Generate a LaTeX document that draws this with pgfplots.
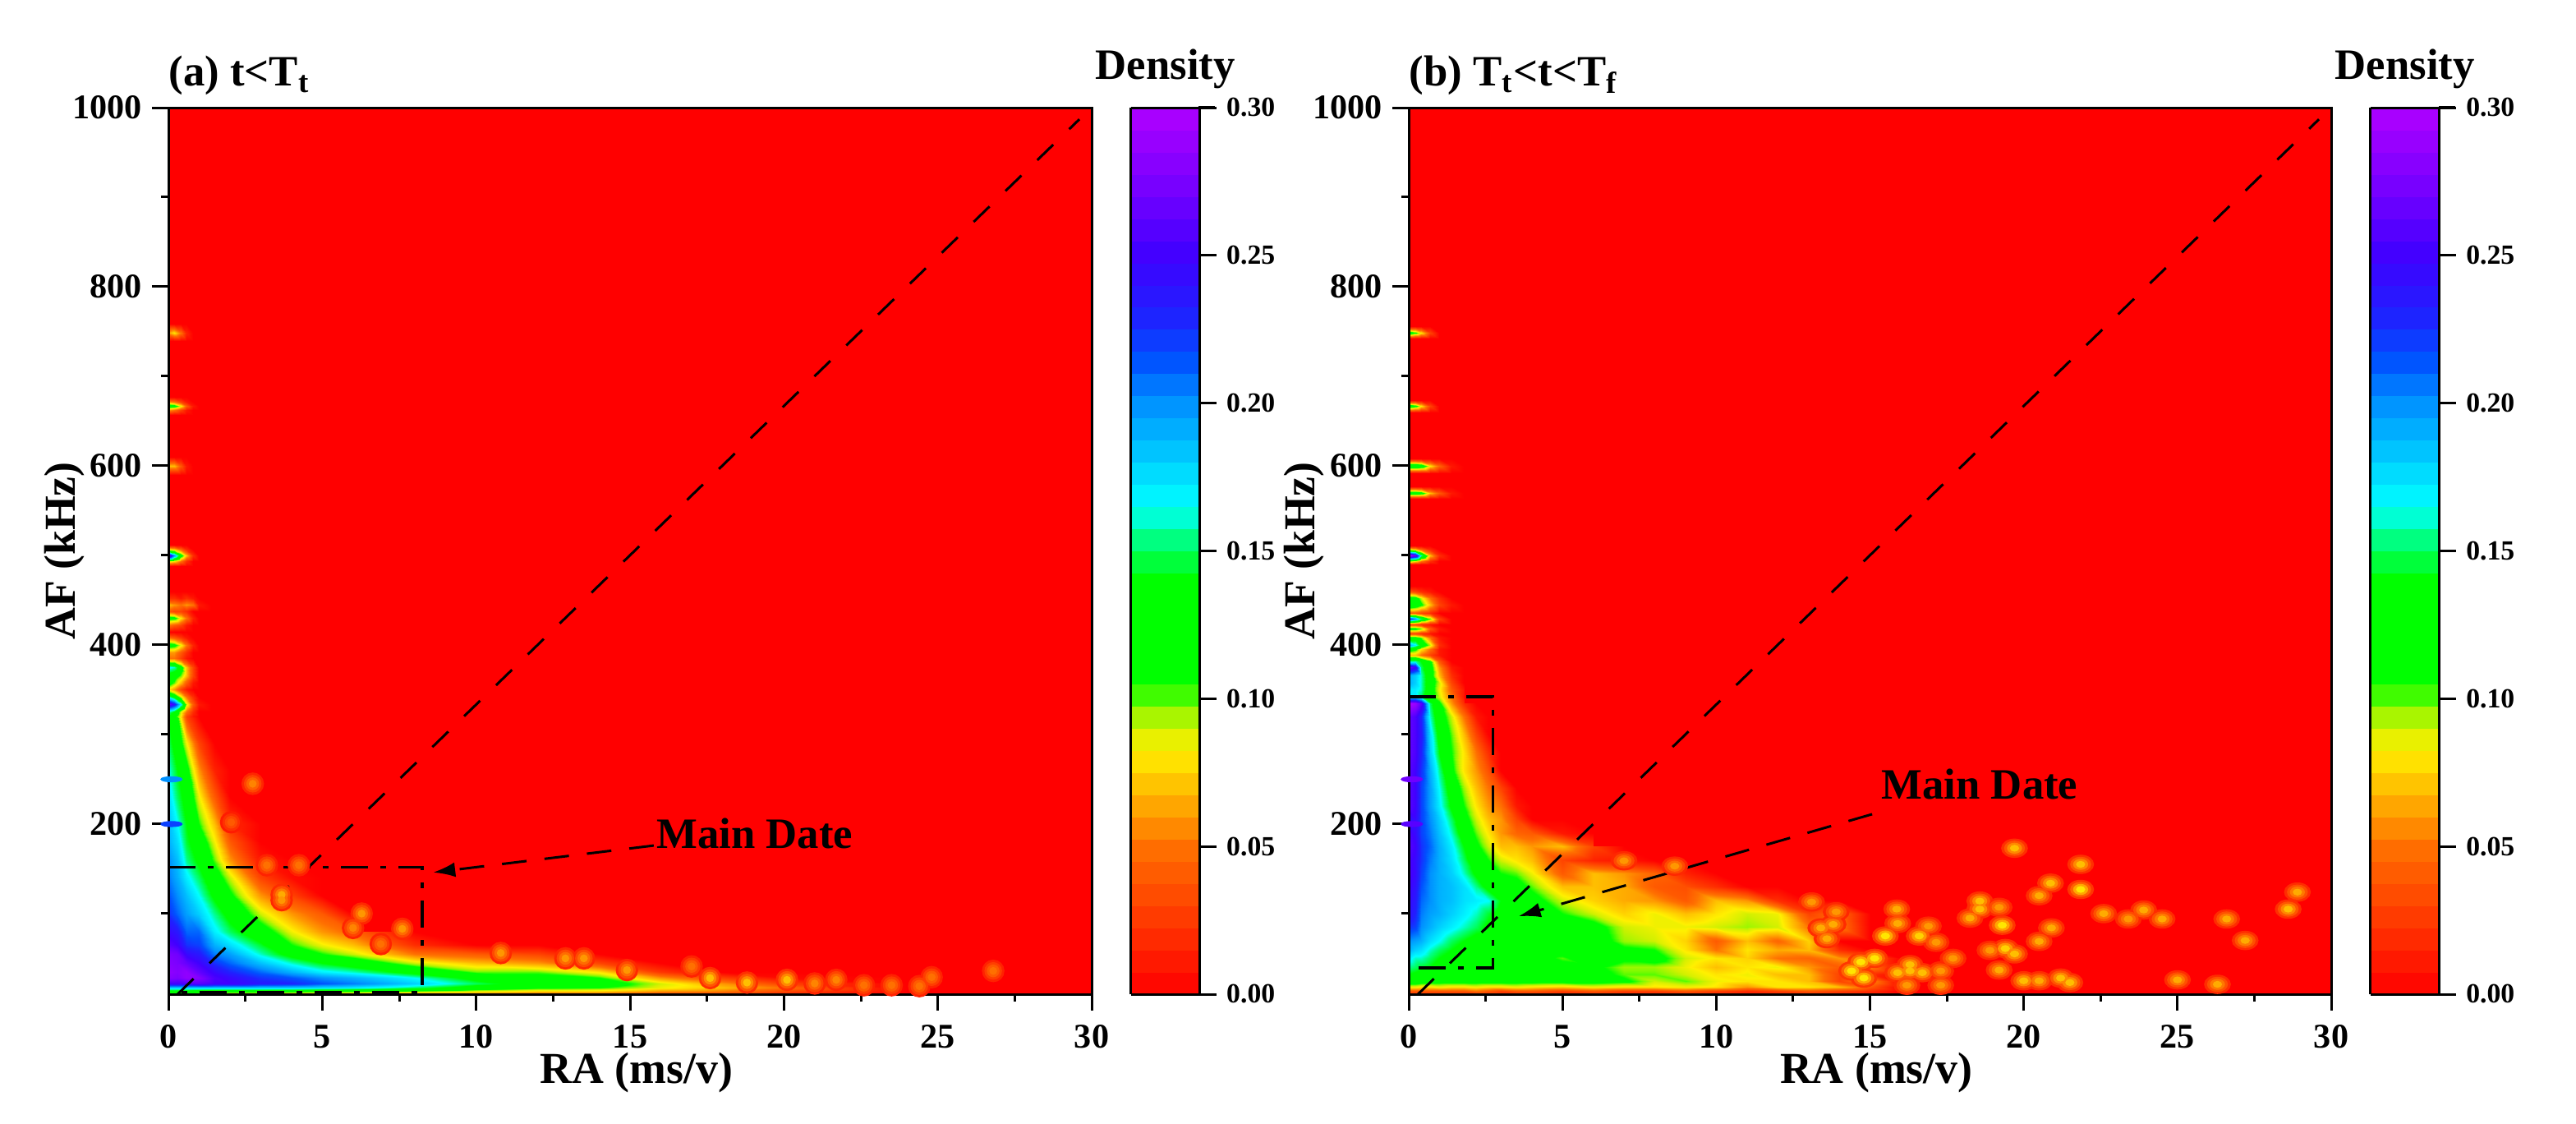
\documentclass[border=0pt]{standalone}
\usepackage{fontspec}
\setmainfont{Liberation Serif}
\usepackage{pgfplots}
\usepackage{pgfplotstable}
\pgfplotsset{compat=1.18}
\usetikzlibrary{arrows.meta}

\tikzset{call text/.style={font=\bfseries\fontsize{15}{15}\selectfont,anchor=base west,inner sep=0pt}}

% 1 px of the reference = 0.01cm
\pgfplotsset{
  colormap={dens}{[1pt]
    rgb255(0pt)=(255,0,0); rgb255(20pt)=(255,112,0); rgb255(33pt)=(255,240,0);
    rgb255(36pt)=(210,240,0); rgb255(39pt)=(128,250,0); rgb255(42pt)=(0,255,0);
    rgb255(56pt)=(0,255,0); rgb255(62pt)=(0,255,140); rgb255(66pt)=(0,255,255);
    rgb255(80pt)=(0,145,255); rgb255(86pt)=(0,80,255); rgb255(92pt)=(32,32,255);
    rgb255(100pt)=(64,0,255); rgb255(108pt)=(112,0,255); rgb255(120pt)=(176,0,255)},
  panel/.style={
    scale only axis, height=10.79cm,
    xmin=0, xmax=30, ymin=10, ymax=1000,
    xtick={0,5,...,30}, ytick={200,400,...,1000},
    minor xtick={2.5,7.5,...,27.5}, minor ytick={100,300,...,900},
    xtick pos=bottom, ytick pos=left, tick align=outside,
    major tick length=.2cm, minor tick length=.09cm,
    axis line style={line width=.03cm}, tick style={line width=.03cm,black},
    axis on top, axis background/.style={fill=red},
    colormap name=dens, point meta min=0, point meta max=0.3,
    /pgf/number format/assume math mode=true,
    /pgf/number format/1000 sep={},
    tick label style={font=\bfseries\fontsize{12}{12}\selectfont},
    xticklabel style={yshift=-.05cm},
    label style={font=\bfseries\fontsize{15.3}{15.3}\selectfont},
    title style={font=\bfseries\fontsize{15}{15}\selectfont,at={(0,1)},anchor=base west,inner sep=0pt,yshift=.05cm},
    xlabel={RA (ms/v)}, ylabel={AF (kHz)},
    xlabel style={at={(axis description cs:0.507,0)},anchor=base,yshift=-1.08cm},
    ylabel style={at={(axis description cs:0,0.5)},anchor=base,yshift=1.13cm},
    colorbar sampled,
    colorbar shift/.style={xshift=.15cm},
    colorbar style={
      samples=41, width=.84cm,
      ytick={0,0.05,...,0.3}, ytick pos=right, yticklabel pos=right,
      tick align=outside, major tick length=.2cm,
      axis line style={draw=black,line width=.03cm},
      tick style={draw=black,line width=.03cm},
      scaled y ticks=false,
      yticklabel style={font=\bfseries\fontsize{9.6}{9.6}\selectfont,
        /pgf/number format/fixed,/pgf/number format/fixed zerofill,
        /pgf/number format/precision=2,/pgf/number format/assume math mode=true},
      title={Density},
      title style={font=\bfseries\fontsize{15}{15}\selectfont,at={(0.5,1)},anchor=base,yshift=.13cm}
    }
  },
  dens mesh/.style={surf,shader=interp,forget plot,mesh/cols=#1,point meta=\thisrow{d}},
  box line/.style={black,line width=.035cm,dash pattern=on .33cm off .15cm on .07cm off .15cm},
  diag line/.style={black,line width=.03cm,dash pattern=on .27cm off .27cm},
  call line/.style={black,line width=.03cm,dash pattern=on .3cm off .22cm,-{Latex[length=.27cm,width=.18cm]}}
}

% isolated spots, drawn as nested rings that fade out to the background
\newcommand{\blobs}[2]{%
  \addplot[scatter,only marks,mark=*,mark size=3.7pt,forget plot,scatter/use mapped color={draw=mapped color,fill=mapped color},mark options={#2},point meta={\thisrow{d}*0.3}] table {#1};
  \addplot[scatter,only marks,mark=*,mark size=2.85pt,forget plot,scatter/use mapped color={draw=mapped color,fill=mapped color},mark options={#2},point meta={\thisrow{d}*0.55}] table {#1};
  \addplot[scatter,only marks,mark=*,mark size=2pt,forget plot,scatter/use mapped color={draw=mapped color,fill=mapped color},mark options={#2},point meta={\thisrow{d}*0.8}] table {#1};
  \addplot[scatter,only marks,mark=*,mark size=1.15pt,forget plot,scatter/use mapped color={draw=mapped color,fill=mapped color},mark options={#2},point meta={\thisrow{d}}] table {#1};
}
\newcommand{\stripes}[1]{%
  \addplot[scatter,only marks,mark=*,mark size=1.2pt,forget plot,scatter/use mapped color={draw=mapped color,fill=mapped color},mark options={xscale=3,yscale=.7},point meta={\thisrow{d}}] table {#1};
}

\pgfplotstableread{
x y d
2.74 245 .055
2.04 202 .04
3.2 154 .05
4.24 154 .05
3.68 121 .065
3.68 115 .06
6.28 100 .06
6.0 84 .055
7.6 83 .06
6.9 66 .05
10.8 56 .06
12.9 50 .06
13.5 50 .06
14.9 37 .06
17.0 41 .05
17.6 28 .07
18.8 23 .07
20.1 26 .07
21.0 22 .055
21.7 26 .055
22.6 20 .05
23.5 20 .05
24.4 19 .05
24.8 29 .05
26.8 36 .05
}\spotsa

\pgfplotstableread{
x y d
19.7 173 .07
21.85 155 .07
20.87 134 .07
21.85 127 .08
20.5 120 .065
28.9 124 .065
28.6 105 .07
15.87 105 .065
18.57 114 .07
18.57 105 .07
19.2 107 .06
18.25 95 .065
22.6 100 .065
23.9 104 .065
23.4 94 .06
24.5 94 .065
26.6 94 .065
15.9 89 .065
16.9 86 .06
19.3 87 .08
20.9 84 .065
15.5 75 .08
16.6 75 .075
17.15 68 .06
20.5 69 .065
27.2 70 .065
19.4 61 .075
19.7 55 .07
18.9 59 .06
17.7 50 .06
15.15 50 .08
14.7 46 .08
16.3 43 .07
16.3 36 .07
15.9 34 .07
16.7 34 .07
17.3 36 .06
19.2 37 .065
14.8 28 .08
14.4 36 .08
16.2 20 .06
17.3 20 .06
20 25 .07
20.5 25 .065
21.2 28 .07
21.5 23 .07
25 26 .065
26.3 21 .065
13.1 113 .06
13.8 88 .065
13.6 72 .065
13.4 84 .065
13.9 102 .06
8.65 153 .06
7 159 .06
}\spotsb

\pgfplotstableread{
x y d
.1 250 .2
.1 200 .22
}\stripea

\pgfplotstableread{
x y d
.1 250 .27
.1 200 .26
}\stripeb

\begin{document}
\begin{tikzpicture}
\path[use as bounding box] (0,0) rectangle (31.36cm,13.67cm);

\begin{axis}[panel,at={(2.05cm,1.57cm)},anchor=south west,width=11.24cm,
  title={(a) t<T\textsubscript{t}}]
\addplot[dens mesh=18] table[row sep=\\] {x y d\\
0 10 .08\\.3 10 .08\\.6 10 .08\\1 10 .08\\1.5 10 .08\\2 10 .07\\3 10 .07\\4 10 .06\\5 10 .06\\6 10 .06\\8 10 .05\\10 10 .04\\12 10 .035\\14 10 .035\\16 10 .02\\18 10 .02\\20 10 .01\\24 10 0\\
0 13 .12\\.3 13 .12\\.6 13 .12\\1 13 .115\\1.5 13 .11\\2 13 .11\\3 13 .11\\4 13 .105\\5 13 .1\\6 13 .1\\8 13 .09\\10 13 .08\\12 13 .07\\14 13 .07\\16 13 .055\\18 13 .05\\20 13 .03\\24 13 0\\
0 17 .18\\.3 17 .18\\.6 17 .18\\1 17 .18\\1.5 17 .18\\2 17 .18\\3 17 .18\\4 17 .18\\5 17 .175\\6 17 .17\\8 17 .15\\10 17 .125\\12 17 .11\\14 17 .105\\16 17 .085\\18 17 .07\\20 17 .05\\24 17 0\\
0 22 .25\\.3 22 .25\\.6 22 .255\\1 22 .26\\1.5 22 .25\\2 22 .25\\3 22 .235\\4 22 .23\\5 22 .215\\6 22 .205\\8 22 .18\\10 22 .15\\12 22 .125\\14 22 .12\\16 22 .09\\18 22 .06\\20 22 .03\\24 22 0\\
0 28 .28\\.3 28 .275\\.6 28 .285\\1 28 .28\\1.5 28 .255\\2 28 .245\\3 28 .225\\4 28 .215\\5 28 .2\\6 28 .19\\8 28 .165\\10 28 .13\\12 28 .115\\14 28 .105\\16 28 .06\\18 28 .03\\20 28 .005\\24 28 0\\
0 35 .285\\.3 35 .28\\.6 35 .285\\1 35 .265\\1.5 35 .245\\2 35 .23\\3 35 .21\\4 35 .19\\5 35 .17\\6 35 .16\\8 35 .13\\10 35 .1\\12 35 .1\\14 35 .08\\16 35 .025\\18 35 0\\20 35 0\\24 35 0\\
0 45 .28\\.3 45 .275\\.6 45 .265\\1 45 .25\\1.5 45 .225\\2 45 .21\\3 45 .185\\4 45 .16\\5 45 .14\\6 45 .125\\8 45 .09\\10 45 .07\\12 45 .06\\14 45 .03\\16 45 0\\18 45 0\\20 45 0\\24 45 0\\
0 55 .275\\.3 55 .27\\.6 55 .245\\1 55 .235\\1.5 55 .205\\2 55 .195\\3 55 .16\\4 55 .13\\5 55 .105\\6 55 .09\\8 55 .05\\10 55 .04\\12 55 .03\\14 55 0\\16 55 0\\18 55 0\\20 55 0\\24 55 0\\
0 65 .26\\.3 65 .25\\.6 65 .225\\1 65 .22\\1.5 65 .19\\2 65 .175\\3 65 .145\\4 65 .105\\5 65 .085\\6 65 .07\\8 65 .02\\10 65 0\\12 65 0\\14 65 0\\16 65 0\\18 65 0\\20 65 0\\24 65 0\\
0 80 .245\\.3 80 .235\\.6 80 .21\\1 80 .21\\1.5 80 .17\\2 80 .15\\3 80 .12\\4 80 .085\\5 80 .06\\6 80 .045\\8 80 0\\10 80 0\\12 80 0\\14 80 0\\16 80 0\\18 80 0\\20 80 0\\24 80 0\\
};
\addplot[dens mesh=10] table[row sep=\\] {x y d\\
0 80 .245\\.3 80 .235\\.6 80 .21\\1 80 .21\\1.5 80 .17\\2 80 .15\\3 80 .12\\4 80 .085\\5 80 .06\\6 80 .045\\
0 100 .225\\.3 100 .21\\.6 100 .195\\1 100 .18\\1.5 100 .155\\2 100 .13\\3 100 .09\\4 100 .06\\5 100 .04\\6 100 0\\
0 120 .215\\.3 120 .2\\.6 120 .185\\1 120 .165\\1.5 120 .135\\2 120 .11\\3 120 .06\\4 120 .03\\5 120 0\\6 120 0\\
0 140 .205\\.3 140 .19\\.6 140 .17\\1 140 .15\\1.5 140 .12\\2 140 .09\\3 140 .03\\4 140 .005\\5 140 0\\6 140 0\\
0 160 .2\\.3 160 .185\\.6 160 .155\\1 160 .135\\1.5 160 .1\\2 160 .06\\3 160 .01\\4 160 0\\5 160 0\\6 160 0\\
0 180 .19\\.3 180 .175\\.6 180 .145\\1 180 .125\\1.5 180 .085\\2 180 .04\\3 180 0\\4 180 0\\5 180 0\\6 180 0\\
0 200 .185\\.3 200 .165\\.6 200 .14\\1 200 .105\\1.5 200 .07\\2 200 .02\\3 200 0\\4 200 0\\5 200 0\\6 200 0\\
0 230 .175\\.3 230 .15\\.6 230 .13\\1 230 .085\\1.5 230 .04\\2 230 0\\3 230 0\\4 230 0\\5 230 0\\6 230 0\\
0 260 .165\\.3 260 .14\\.6 260 .115\\1 260 .06\\1.5 260 .015\\2 260 0\\3 260 0\\4 260 0\\5 260 0\\6 260 0\\
0 290 .15\\.3 290 .125\\.6 290 .085\\1 290 .03\\1.5 290 0\\2 290 0\\3 290 0\\4 290 0\\5 290 0\\6 290 0\\
0 320 .14\\.3 320 .105\\.6 320 .03\\1 320 0\\1.5 320 0\\2 320 0\\3 320 0\\4 320 0\\5 320 0\\6 320 0\\
};
\addplot[dens mesh=7] table[row sep=\\] {x y d\\
0 320 .14\\.2 320 .115\\.4 320 .08\\.6 320 .03\\.8 320 .01\\1 320 0\\1.4 320 0\\
0 326 .16\\.2 326 .14\\.4 326 .09\\.6 326 .05\\.8 326 .02\\1 326 0\\1.4 326 0\\
0 334 .27\\.2 334 .24\\.4 334 .17\\.6 334 .09\\.8 334 .04\\1 334 .01\\1.4 334 0\\
0 342 .16\\.2 342 .13\\.4 342 .09\\.6 342 .05\\.8 342 .02\\1 342 0\\1.4 342 0\\
0 350 .08\\.2 350 .06\\.4 350 .03\\.6 350 .01\\.8 350 0\\1 350 0\\1.4 350 0\\
0 358 .12\\.2 358 .1\\.4 358 .07\\.6 358 .04\\.8 358 .01\\1 358 0\\1.4 358 0\\
0 366 .13\\.2 366 .12\\.4 366 .1\\.6 366 .07\\.8 366 .03\\1 366 0\\1.4 366 0\\
0 375 .17\\.2 375 .16\\.4 375 .12\\.6 375 .07\\.8 375 .03\\1 375 0\\1.4 375 0\\
0 385 .05\\.2 385 .05\\.4 385 .03\\.6 385 .01\\.8 385 0\\1 385 0\\1.4 385 0\\
0 392 .06\\.2 392 .06\\.4 392 .04\\.6 392 .02\\.8 392 0\\1 392 0\\1.4 392 0\\
0 400 .12\\.2 400 .115\\.4 400 .085\\.6 400 .05\\.8 400 .015\\1 400 0\\1.4 400 0\\
0 408 .05\\.2 408 .04\\.4 408 .025\\.6 408 .01\\.8 408 0\\1 408 0\\1.4 408 0\\
0 415 0\\.2 415 0\\.4 415 0\\.6 415 0\\.8 415 0\\1 415 0\\1.4 415 0\\
0 422 .05\\.2 422 .04\\.4 422 .03\\.6 422 .01\\.8 422 0\\1 422 0\\1.4 422 0\\
0 430 .12\\.2 430 .115\\.4 430 .08\\.6 430 .05\\.8 430 .015\\1 430 0\\1.4 430 0\\
0 438 .04\\.2 438 .03\\.4 438 .03\\.6 438 .02\\.8 438 0\\1 438 0\\1.4 438 0\\
0 445 .07\\.2 445 .06\\.4 445 .05\\.6 445 .06\\.8 445 .05\\1 445 .01\\1.4 445 0\\
0 452 .02\\.2 452 .02\\.4 452 .01\\.6 452 .02\\.8 452 .01\\1 452 0\\1.4 452 0\\
0 460 0\\.2 460 0\\.4 460 0\\.6 460 0\\.8 460 0\\1 460 0\\1.4 460 0\\
0 488 0\\.2 488 0\\.4 488 0\\.6 488 0\\.8 488 0\\1 488 0\\1.4 488 0\\
0 494 .09\\.2 494 .08\\.4 494 .05\\.6 494 .02\\.8 494 0\\1 494 0\\1.4 494 0\\
0 500 .28\\.2 500 .2\\.4 500 .12\\.6 500 .07\\.8 500 .02\\1 500 0\\1.4 500 0\\
0 506 .09\\.2 506 .08\\.4 506 .05\\.6 506 .02\\.8 506 0\\1 506 0\\1.4 506 0\\
0 512 0\\.2 512 0\\.4 512 0\\.6 512 0\\.8 512 0\\1 512 0\\1.4 512 0\\
0 590 0\\.2 590 0\\.4 590 0\\.6 590 0\\.8 590 0\\1 590 0\\1.4 590 0\\
0 600 .07\\.2 600 .07\\.4 600 .04\\.6 600 .01\\.8 600 0\\1 600 0\\1.4 600 0\\
0 610 0\\.2 610 0\\.4 610 0\\.6 610 0\\.8 610 0\\1 610 0\\1.4 610 0\\
0 657 0\\.2 657 0\\.4 657 0\\.6 657 0\\.8 657 0\\1 657 0\\1.4 657 0\\
0 662 .06\\.2 662 .05\\.4 662 .03\\.6 662 .01\\.8 662 0\\1 662 0\\1.4 662 0\\
0 667 .13\\.2 667 .12\\.4 667 .085\\.6 667 .04\\.8 667 .01\\1 667 0\\1.4 667 0\\
0 672 .06\\.2 672 .05\\.4 672 .03\\.6 672 .01\\.8 672 0\\1 672 0\\1.4 672 0\\
0 677 0\\.2 677 0\\.4 677 0\\.6 677 0\\.8 677 0\\1 677 0\\1.4 677 0\\
0 739 0\\.2 739 0\\.4 739 0\\.6 739 0\\.8 739 0\\1 739 0\\1.4 739 0\\
0 749 .06\\.2 749 .08\\.4 749 .05\\.6 749 .015\\.8 749 0\\1 749 0\\1.4 749 0\\
0 759 0\\.2 759 0\\.4 759 0\\.6 759 0\\.8 759 0\\1 759 0\\1.4 759 0\\
};
\blobs{\spotsa}{}
\stripes{\stripea}
\addplot[diag line] coordinates {(0.3,10) (29.6,987)};
\addplot[box line] coordinates {(0,152) (8.25,152) (8.25,12) (0,12)};
\addplot[call line] coordinates {(15.77,176) (8.6,146)};
\node[call text] at (axis cs:15.85,173) {Main Date};
\end{axis}

\begin{axis}[panel,at={(17.15cm,1.57cm)},anchor=south west,width=11.23cm,
  title={(b) T\textsubscript{t}<t<T\textsubscript{f}},
  ylabel style={yshift=.02cm}]
\addplot[dens mesh=24] table[row sep=\\] {x y d\\
0 10 .02\\.2 10 .02\\.4 10 .02\\.7 10 .02\\1 10 .02\\1.4 10 .02\\1.8 10 .02\\2.2 10 .02\\2.6 10 .02\\3 10 .02\\3.5 10 .02\\4 10 .02\\5 10 .015\\6 10 .02\\7 10 .015\\8 10 .015\\9 10 .02\\10 10 .015\\11 10 .01\\12 10 .015\\13 10 .02\\14 10 .015\\15 10 .01\\16 10 0\\
0 14 .04\\.2 14 .04\\.4 14 .04\\.7 14 .04\\1 14 .04\\1.4 14 .04\\1.8 14 .04\\2.2 14 .05\\2.6 14 .04\\3 14 .03\\3.5 14 .04\\4 14 .04\\5 14 .03\\6 14 .04\\7 14 .03\\8 14 .03\\9 14 .04\\10 14 .03\\11 14 .02\\12 14 .03\\13 14 .04\\14 14 .03\\15 14 .02\\16 14 0\\
0 18 .085\\.2 18 .085\\.4 18 .08\\.7 18 .08\\1 18 .085\\1.4 18 .08\\1.8 18 .08\\2.2 18 .085\\2.6 18 .08\\3 18 .08\\3.5 18 .085\\4 18 .08\\5 18 .075\\6 18 .085\\7 18 .08\\8 18 .08\\9 18 .085\\10 18 .08\\11 18 .06\\12 18 .08\\13 18 .08\\14 18 .07\\15 18 .04\\16 18 0\\
0 25 .125\\.2 25 .125\\.4 25 .12\\.7 25 .115\\1 25 .115\\1.4 25 .115\\1.8 25 .115\\2.2 25 .115\\2.6 25 .115\\3 25 .115\\3.5 25 .115\\4 25 .115\\5 25 .115\\6 25 .115\\7 25 .11\\8 25 .09\\9 25 .1\\10 25 .085\\11 25 .08\\12 25 .08\\13 25 .07\\14 25 .03\\15 25 .06\\16 25 0\\
0 32 .14\\.2 32 .135\\.4 32 .13\\.7 32 .125\\1 32 .125\\1.4 32 .12\\1.8 32 .12\\2.2 32 .125\\2.6 32 .12\\3 32 .12\\3.5 32 .12\\4 32 .12\\5 32 .12\\6 32 .115\\7 32 .1\\8 32 .1\\9 32 .09\\10 32 .08\\11 32 .085\\12 32 .07\\13 32 .07\\14 32 .03\\15 32 .02\\16 32 0\\
0 40 .155\\.2 40 .15\\.4 40 .145\\.7 40 .14\\1 40 .13\\1.4 40 .12\\1.8 40 .115\\2.2 40 .11\\2.6 40 .115\\3 40 .12\\3.5 40 .12\\4 40 .12\\5 40 .115\\6 40 .11\\7 40 .095\\8 40 .095\\9 40 .085\\10 40 .07\\11 40 .08\\12 40 .085\\13 40 .06\\14 40 .04\\15 40 .055\\16 40 0\\
0 50 .17\\.2 50 .16\\.4 50 .16\\.7 50 .15\\1 50 .14\\1.4 50 .13\\1.8 50 .12\\2.2 50 .12\\2.6 50 .125\\3 50 .12\\3.5 50 .12\\4 50 .12\\5 50 .1\\6 50 .125\\7 50 .11\\8 50 .115\\9 50 .09\\10 50 .08\\11 50 .075\\12 50 .05\\13 50 .045\\14 50 .06\\15 50 .04\\16 50 0\\
0 60 .19\\.2 60 .18\\.4 60 .175\\.7 60 .16\\1 60 .15\\1.4 60 .14\\1.8 60 .13\\2.2 60 .125\\2.6 60 .125\\3 60 .125\\3.5 60 .125\\4 60 .125\\5 60 .12\\6 60 .12\\7 60 .11\\8 60 .105\\9 60 .08\\10 60 .05\\11 60 .08\\12 60 .065\\13 60 .07\\14 60 .02\\15 60 0\\16 60 0\\
0 70 .2\\.2 70 .195\\.4 70 .19\\.7 70 .175\\1 70 .165\\1.4 70 .15\\1.8 70 .14\\2.2 70 .13\\2.6 70 .125\\3 70 .125\\3.5 70 .13\\4 70 .125\\5 70 .125\\6 70 .12\\7 70 .095\\8 70 .09\\9 70 .075\\10 70 .04\\11 70 .07\\12 70 .045\\13 70 .075\\14 70 0\\15 70 0\\16 70 0\\
0 85 .225\\.2 85 .22\\.4 85 .2\\.7 85 .19\\1 85 .18\\1.4 85 .17\\1.8 85 .16\\2.2 85 .15\\2.6 85 .135\\3 85 .125\\3.5 85 .13\\4 85 .125\\5 85 .125\\6 85 .115\\7 85 .09\\8 85 .085\\9 85 .085\\10 85 .09\\11 85 .095\\12 85 .09\\13 85 .05\\14 85 .055\\15 85 0\\16 85 0\\
0 100 .24\\.2 100 .23\\.4 100 .205\\.7 100 .195\\1 100 .19\\1.4 100 .18\\1.8 100 .17\\2.2 100 .16\\2.6 100 .145\\3 100 .13\\3.5 100 .125\\4 100 .12\\5 100 .105\\6 100 .09\\7 100 .075\\8 100 .085\\9 100 .07\\10 100 .08\\11 100 .09\\12 100 .085\\13 100 .03\\14 100 .05\\15 100 0\\16 100 0\\
0 115 .245\\.2 115 .235\\.4 115 .21\\.7 115 .2\\1 115 .19\\1.4 115 .185\\1.8 115 .175\\2.2 115 .17\\2.6 115 .165\\3 115 .14\\3.5 115 .125\\4 115 .115\\5 115 .09\\6 115 .075\\7 115 .065\\8 115 .06\\9 115 .04\\10 115 .07\\11 115 .06\\12 115 .02\\13 115 0\\14 115 0\\15 115 0\\16 115 0\\
0 130 .25\\.2 130 .24\\.4 130 .215\\.7 130 .2\\1 130 .19\\1.4 130 .185\\1.8 130 .175\\2.2 130 .155\\2.6 130 .13\\3 130 .12\\3.5 130 .115\\4 130 .1\\5 130 .07\\6 130 .07\\7 130 .065\\8 130 .04\\9 130 .035\\10 130 .02\\11 130 0\\12 130 0\\13 130 0\\14 130 0\\15 130 0\\16 130 0\\
0 145 .255\\.2 145 .245\\.4 145 .22\\.7 145 .2\\1 145 .19\\1.4 145 .18\\1.8 145 .16\\2.2 145 .135\\2.6 145 .115\\3 145 .105\\3.5 145 .1\\4 145 .085\\5 145 .04\\6 145 .07\\7 145 .06\\8 145 .045\\9 145 .015\\10 145 0\\11 145 0\\12 145 0\\13 145 0\\14 145 0\\15 145 0\\16 145 0\\
0 160 .255\\.2 160 .245\\.4 160 .225\\.7 160 .205\\1 160 .19\\1.4 160 .175\\1.8 160 .15\\2.2 160 .12\\2.6 160 .105\\3 160 .09\\3.5 160 .08\\4 160 .07\\5 160 .03\\6 160 .015\\7 160 .01\\8 160 0\\9 160 0\\10 160 0\\11 160 0\\12 160 0\\13 160 0\\14 160 0\\15 160 0\\16 160 0\\
0 175 .26\\.2 175 .25\\.4 175 .225\\.7 175 .21\\1 175 .19\\1.4 175 .17\\1.8 175 .14\\2.2 175 .11\\2.6 175 .09\\3 175 .07\\3.5 175 .07\\4 175 .06\\5 175 .07\\6 175 .03\\7 175 0\\8 175 0\\9 175 0\\10 175 0\\11 175 0\\12 175 0\\13 175 0\\14 175 0\\15 175 0\\16 175 0\\
};
\addplot[dens mesh=14] table[row sep=\\] {x y d\\
0 175 .26\\.2 175 .25\\.4 175 .225\\.7 175 .21\\1 175 .19\\1.4 175 .17\\1.8 175 .14\\2.2 175 .11\\2.6 175 .09\\3 175 .07\\3.5 175 .07\\4 175 .06\\5 175 .07\\6 175 .03\\
0 190 .255\\.2 190 .245\\.4 190 .22\\.7 190 .205\\1 190 .185\\1.4 190 .16\\1.8 190 .125\\2.2 190 .1\\2.6 190 .08\\3 190 .06\\3.5 190 .045\\4 190 .04\\5 190 .01\\6 190 0\\
0 205 .24\\.2 205 .245\\.4 205 .22\\.7 205 .2\\1 205 .18\\1.4 205 .15\\1.8 205 .115\\2.2 205 .09\\2.6 205 .07\\3 205 .06\\3.5 205 .03\\4 205 0\\5 205 0\\6 205 0\\
0 220 .26\\.2 220 .25\\.4 220 .22\\.7 220 .195\\1 220 .17\\1.4 220 .135\\1.8 220 .105\\2.2 220 .08\\2.6 220 .06\\3 220 .05\\3.5 220 .01\\4 220 0\\5 220 0\\6 220 0\\
0 240 .26\\.2 240 .25\\.4 240 .22\\.7 240 .195\\1 240 .165\\1.4 240 .125\\1.8 240 .095\\2.2 240 .07\\2.6 240 .05\\3 240 .03\\3.5 240 0\\4 240 0\\5 240 0\\6 240 0\\
0 260 .26\\.2 260 .25\\.4 260 .225\\.7 260 .19\\1 260 .155\\1.4 260 .11\\1.8 260 .08\\2.2 260 .06\\2.6 260 .035\\3 260 0\\3.5 260 0\\4 260 0\\5 260 0\\6 260 0\\
0 280 .265\\.2 280 .255\\.4 280 .23\\.7 280 .18\\1 280 .14\\1.4 280 .105\\1.8 280 .08\\2.2 280 .05\\2.6 280 .02\\3 280 0\\3.5 280 0\\4 280 0\\5 280 0\\6 280 0\\
0 300 .265\\.2 300 .255\\.4 300 .235\\.7 300 .175\\1 300 .13\\1.4 300 .1\\1.8 300 .07\\2.2 300 .03\\2.6 300 0\\3 300 0\\3.5 300 0\\4 300 0\\5 300 0\\6 300 0\\
0 320 .265\\.2 320 .255\\.4 320 .23\\.7 320 .16\\1 320 .12\\1.4 320 .09\\1.8 320 .05\\2.2 320 .01\\2.6 320 0\\3 320 0\\3.5 320 0\\4 320 0\\5 320 0\\6 320 0\\
0 335 .3\\.2 335 .29\\.4 335 .26\\.7 335 .15\\1 335 .11\\1.4 335 .06\\1.8 335 .02\\2.2 335 0\\2.6 335 0\\3 335 0\\3.5 335 0\\4 335 0\\5 335 0\\6 335 0\\
};
\addplot[dens mesh=7] table[row sep=\\] {x y d\\
0 335 .3\\.2 335 .29\\.4 335 .26\\.7 335 .15\\1 335 .11\\1.4 335 .06\\1.8 335 .02\\
0 342 .17\\.2 342 .17\\.4 342 .15\\.7 342 .11\\1 342 .09\\1.4 342 .05\\1.8 342 .01\\
0 350 .17\\.2 350 .17\\.4 350 .16\\.7 350 .12\\1 350 .085\\1.4 350 .04\\1.8 350 .01\\
0 358 .19\\.2 358 .18\\.4 358 .16\\.7 358 .12\\1 358 .09\\1.4 358 .03\\1.8 358 0\\
0 366 .19\\.2 366 .18\\.4 366 .16\\.7 366 .12\\1 366 .07\\1.4 366 .02\\1.8 366 0\\
0 375 .27\\.2 375 .25\\.4 375 .15\\.7 375 .12\\1 375 .06\\1.4 375 .01\\1.8 375 0\\
0 382 .16\\.2 382 .16\\.4 382 .14\\.7 382 .11\\1 382 .04\\1.4 382 0\\1.8 382 0\\
0 389 .07\\.2 389 .07\\.4 389 .05\\.7 389 .03\\1 389 .01\\1.4 389 0\\1.8 389 0\\
0 395 .12\\.2 395 .11\\.4 395 .08\\.7 395 .05\\1 395 .01\\1.4 395 0\\1.8 395 0\\
0 400 .19\\.2 400 .17\\.4 400 .13\\.7 400 .09\\1 400 .02\\1.4 400 0\\1.8 400 0\\
0 408 .12\\.2 408 .12\\.4 408 .1\\.7 408 .05\\1 408 .01\\1.4 408 0\\1.8 408 0\\
0 413 .03\\.2 413 .03\\.4 413 .02\\.7 413 .01\\1 413 0\\1.4 413 0\\1.8 413 0\\
0 418 .12\\.2 418 .12\\.4 418 .1\\.7 418 .04\\1 418 .01\\1.4 418 0\\1.8 418 0\\
0 423 .03\\.2 423 .03\\.4 423 .02\\.7 423 .01\\1 423 0\\1.4 423 0\\1.8 423 0\\
0 429 .23\\.2 429 .2\\.4 429 .15\\.7 429 .1\\1 429 .03\\1.4 429 0\\1.8 429 0\\
0 436 .04\\.2 436 .04\\.4 436 .03\\.7 436 .02\\1 436 0\\1.4 436 0\\1.8 436 0\\
0 445 .14\\.2 445 .13\\.4 445 .11\\.7 445 .07\\1 445 .03\\1.4 445 .01\\1.8 445 0\\
0 452 .12\\.2 452 .12\\.4 452 .09\\.7 452 .05\\1 452 .02\\1.4 452 0\\1.8 452 0\\
0 460 .04\\.2 460 .03\\.4 460 .02\\.7 460 .01\\1 460 0\\1.4 460 0\\1.8 460 0\\
0 466 0\\.2 466 0\\.4 466 0\\.7 466 0\\1 466 0\\1.4 466 0\\1.8 466 0\\
0 490 0\\.2 490 0\\.4 490 0\\.7 490 0\\1 490 0\\1.4 490 0\\1.8 490 0\\
0 494 .1\\.2 494 .08\\.4 494 .05\\.7 494 .02\\1 494 0\\1.4 494 0\\1.8 494 0\\
0 500 .3\\.2 500 .27\\.4 500 .16\\.7 500 .07\\1 500 .02\\1.4 500 0\\1.8 500 0\\
0 506 .1\\.2 506 .08\\.4 506 .05\\.7 506 .02\\1 506 0\\1.4 506 0\\1.8 506 0\\
0 511 0\\.2 511 0\\.4 511 0\\.7 511 0\\1 511 0\\1.4 511 0\\1.8 511 0\\
0 563 0\\.2 563 0\\.4 563 0\\.7 563 0\\1 563 0\\1.4 563 0\\1.8 563 0\\
0 570 .13\\.2 570 .13\\.4 570 .12\\.7 570 .07\\1 570 .04\\1.4 570 .01\\1.8 570 0\\
0 577 0\\.2 577 0\\.4 577 0\\.7 577 0\\1 577 0\\1.4 577 0\\1.8 577 0\\
0 592 0\\.2 592 0\\.4 592 0\\.7 592 0\\1 592 0\\1.4 592 0\\1.8 592 0\\
0 600 .14\\.2 600 .14\\.4 600 .13\\.7 600 .08\\1 600 .045\\1.4 600 .01\\1.8 600 0\\
0 608 0\\.2 608 0\\.4 608 0\\.7 608 0\\1 608 0\\1.4 608 0\\1.8 608 0\\
0 660 0\\.2 660 0\\.4 660 0\\.7 660 0\\1 660 0\\1.4 660 0\\1.8 660 0\\
0 667 .13\\.2 667 .115\\.4 667 .08\\.7 667 .03\\1 667 0\\1.4 667 0\\1.8 667 0\\
0 673 0\\.2 673 0\\.4 673 0\\.7 673 0\\1 673 0\\1.4 673 0\\1.8 673 0\\
0 742 0\\.2 742 0\\.4 742 0\\.7 742 0\\1 742 0\\1.4 742 0\\1.8 742 0\\
0 749 .13\\.2 749 .11\\.4 749 .08\\.7 749 .03\\1 749 0\\1.4 749 0\\1.8 749 0\\
0 756 0\\.2 756 0\\.4 756 0\\.7 756 0\\1 756 0\\1.4 756 0\\1.8 756 0\\
};
\blobs{\spotsb}{xscale=1.2,yscale=.85}
\stripes{\stripeb}
\addplot[diag line] coordinates {(0.3,10) (29.6,987)};
\addplot[box line] coordinates {(0,342) (2.74,342) (2.74,39.5) (0,39.5)};
\addplot[call line] coordinates {(15.07,211) (3.57,97)};
\node[call text] at (axis cs:15.36,228) {Main Date};
\end{axis}

% ticks of the two colour bars
\foreach \k in {0,...,6} {
  \draw[black,line width=.03cm] (14.59,{1.57+10.79*\k/6}) -- +(.2,0);
  \draw[black,line width=.03cm] (29.69,{1.57+10.79*\k/6}) -- +(.2,0);
}
\end{tikzpicture}
\end{document}
